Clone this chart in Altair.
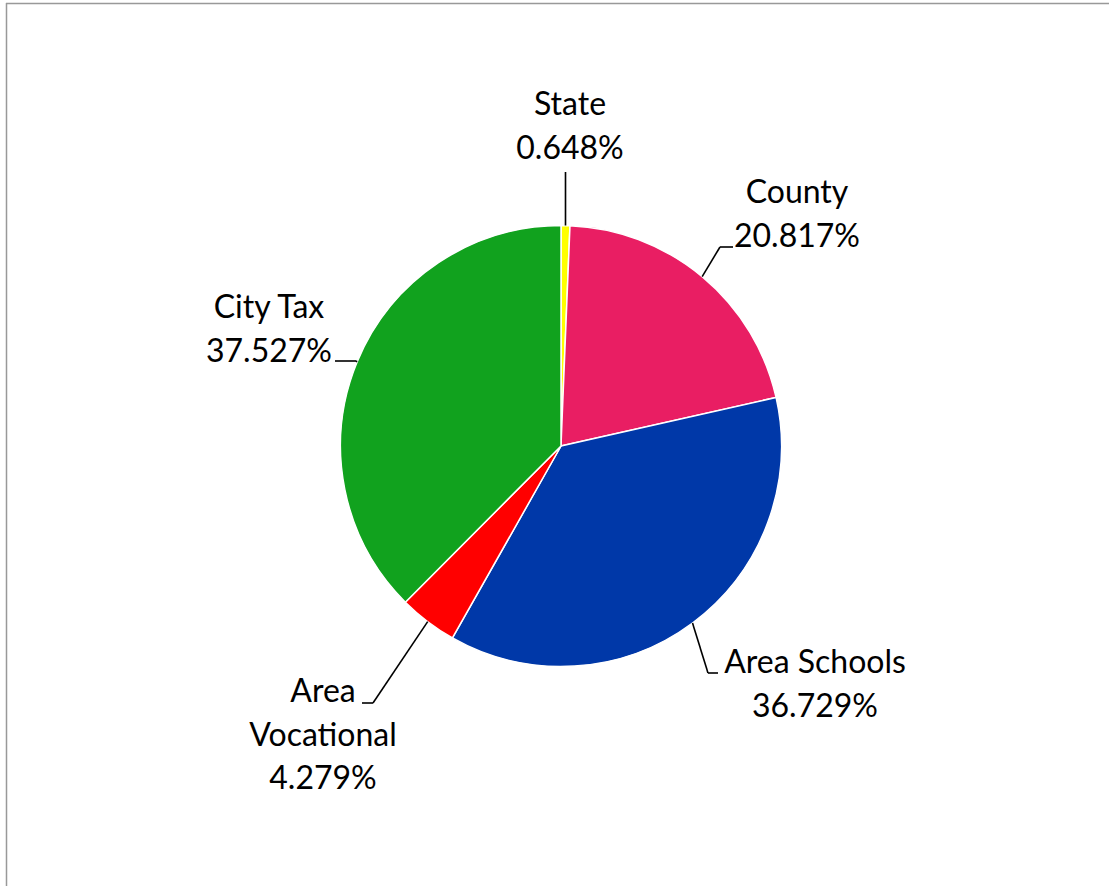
import altair as alt
import pandas as pd

# ---- data ----
categories = ["State", "County", "Area Schools", "Area Vocational", "City Tax"]
values = [0.648, 20.817, 36.729, 4.279, 37.527]
label_lines = [["State"], ["County"], ["Area Schools"], ["Area", "Vocational"], ["City Tax"]]
colors = ["#FFFF00", "#E91E63", "#0038A8", "#FF0000", "#11A21E"]

# ---- layout ----
W, H = 1109, 886
CX, CY, R = 561, 446, 220.5
LINE_H = 43.5
FONT = "Lato"
FS = 32
# first-line centre of each label
label_pos = {
    "State": (570, 105),
    "County": (797, 193),
    "Area Schools": (815, 663),
    "Area Vocational": (323, 692),
    "City Tax": (269, 308),
}
# leader line elbow and end
leader = {
    "State": ((565.5, 172), (565.5, 172)),
    "County": ((720, 247), (733, 247)),
    "Area Schools": ((708, 673), (718, 673)),
    "Area Vocational": ((373, 703), (362, 703)),
    "City Tax": ((356, 361), (335, 361)),
}

df = pd.DataFrame({"cat": categories, "value": values, "idx": range(len(categories))})
df["ex"] = [leader[c][0][0] for c in categories]
df["ey"] = [leader[c][0][1] for c in categories]
df["hx"] = [leader[c][1][0] for c in categories]
df["hy"] = [leader[c][1][1] for c in categories]

rows = []
for c, v, lines in zip(categories, values, label_lines):
    lx, ly = label_pos[c]
    for i, t in enumerate(lines + [f"{v:.3f}%"]):
        rows.append({"cat": c, "text": t, "x": lx, "y": ly + i * LINE_H})
labels = pd.DataFrame(rows)

color_scale = alt.Scale(domain=categories, range=colors)

base = alt.Chart(df)

shadow = alt.Chart(pd.DataFrame({"v": [1]})).mark_arc(
    outerRadius=R + 1, color="#9a9a9a", opacity=0.4
).encode(theta=alt.Theta("v:Q"), x=alt.value(CX + 1.5), y=alt.value(CY + 3))

pie = base.mark_arc(outerRadius=R, stroke="white", strokeWidth=1.5).encode(
    theta=alt.Theta("value:Q", stack=True),
    color=alt.Color("cat:N", scale=color_scale, legend=None, sort=categories),
    order=alt.Order("idx:Q"),
    x=alt.value(CX),
    y=alt.value(CY),
)

leader_base = base.transform_joinaggregate(total="sum(value)").transform_window(
    cum="sum(value)", sort=[alt.SortField("idx")], frame=[None, 0]
).transform_calculate(
    ang="2*PI*(datum.cum - datum.value/2)/datum.total",
).transform_calculate(
    sx=f"{CX} + {R}*sin(datum.ang)",
    sy=f"{CY} - {R}*cos(datum.ang)",
)

seg1 = leader_base.mark_rule(color="black", strokeWidth=1.6).encode(
    x=alt.X("sx:Q", scale=None, axis=None),
    y=alt.Y("sy:Q", scale=None, axis=None),
    x2="ex:Q",
    y2="ey:Q",
)
seg2 = base.mark_rule(color="black", strokeWidth=1.6).encode(
    x=alt.X("ex:Q", scale=None, axis=None),
    y=alt.Y("ey:Q", scale=None, axis=None),
    x2="hx:Q",
    y2="hy:Q",
)

text = alt.Chart(labels).mark_text(
    font=FONT, fontSize=FS, color="black", align="center", baseline="middle"
).encode(
    x=alt.X("x:Q", scale=None, axis=None),
    y=alt.Y("y:Q", scale=None, axis=None),
    text="text:N",
)

frame_top = alt.Chart(pd.DataFrame({"v": [1]})).mark_rule(color="#999999", strokeWidth=1.5).encode(
    x=alt.value(6), x2=alt.value(W), y=alt.value(3.5)
)
frame_left = alt.Chart(pd.DataFrame({"v": [1]})).mark_rule(color="#999999", strokeWidth=1.5).encode(
    x=alt.value(6.5), y=alt.value(3), y2=alt.value(H)
)

chart = alt.layer(shadow, pie, seg1, seg2, text, frame_top, frame_left).properties(
    width=W, height=H, padding=0, autosize=alt.AutoSizeParams(type="none")
).configure_view(stroke=None)

chart.save("out.html", embed_options={"renderer": "svg", "actions": False})
